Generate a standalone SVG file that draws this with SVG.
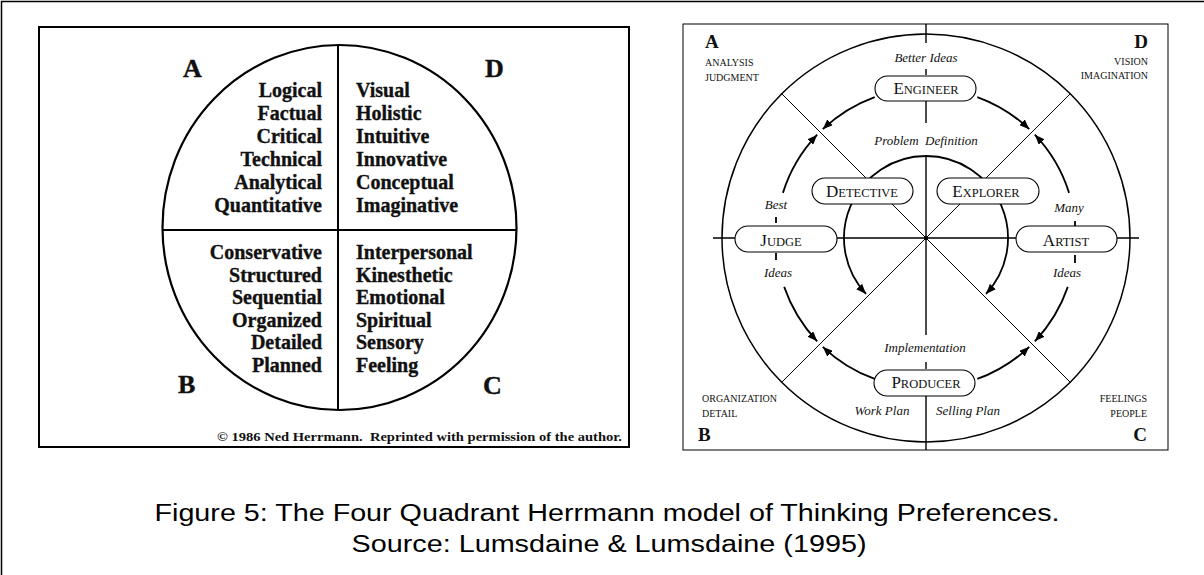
<svg xmlns="http://www.w3.org/2000/svg" width="1204" height="575" viewBox="0 0 1204 575">
<defs>
<marker id="arrow" viewBox="0 0 10 8" refX="10" refY="4" markerWidth="10" markerHeight="8" markerUnits="userSpaceOnUse" orient="auto"><path d="M0,0 L10,4 L0,8 z" fill="#000"/></marker>
</defs>
<style>
.w{font-family:"Liberation Serif","Times New Roman",serif;font-weight:bold;font-size:20px;fill:#111;stroke:#111;stroke-width:0.35}
.e{text-anchor:end}
.big{font-family:"Liberation Serif","Times New Roman",serif;font-weight:bold;font-size:26px;fill:#111;stroke:#111;stroke-width:0.4}
.it{font-family:"Liberation Serif","Times New Roman",serif;font-style:italic;font-size:13px;fill:#111;text-anchor:middle}
.sc{font-family:"Liberation Serif","Times New Roman",serif;font-size:10px;fill:#111}
.let{font-family:"Liberation Serif","Times New Roman",serif;font-weight:bold;font-size:19px;fill:#111}
.cap{font-family:"Liberation Serif","Times New Roman",serif;font-size:17px;fill:#111;text-anchor:middle}
.sm{font-size:12.5px}
.pill{fill:#fff;stroke:#000;stroke-width:1.1}
.ring{fill:none;stroke:#000;stroke-width:1.8}
.thin{fill:none;stroke:#000;stroke-width:1}
.axis{fill:none;stroke:#000;stroke-width:1.4}
.caption{font-family:"Liberation Sans",Arial,sans-serif;font-size:23px;fill:#000;text-anchor:middle}
</style>
<rect width="1204" height="575" fill="#fff"/>
<path d="M1.5,575 V1.5 H1204" fill="none" stroke="#000" stroke-width="1.5"/>

<!-- Left panel -->
<g id="left-panel">
<rect x="39" y="27" width="590" height="420" fill="none" stroke="#000" stroke-width="2"/>
<ellipse cx="339.5" cy="227.5" rx="177" ry="182.5" fill="none" stroke="#000" stroke-width="2.2"/>
<line x1="338" y1="45" x2="338" y2="410" stroke="#000" stroke-width="2"/>
<line x1="162.5" y1="230" x2="516.5" y2="230" stroke="#000" stroke-width="2"/>
<text class="big" x="183" y="77">A</text>
<text class="big" x="485" y="77">D</text>
<text class="big" x="178" y="393">B</text>
<text class="big" x="483" y="394">C</text>
<text class="w e" x="322" y="97">Logical</text>
<text class="w e" x="322" y="120">Factual</text>
<text class="w e" x="322" y="143">Critical</text>
<text class="w e" x="322" y="166">Technical</text>
<text class="w e" x="322" y="189">Analytical</text>
<text class="w e" x="322" y="212">Quantitative</text>
<text class="w e" x="322" y="259">Conservative</text>
<text class="w e" x="322" y="282">Structured</text>
<text class="w e" x="322" y="304">Sequential</text>
<text class="w e" x="322" y="327">Organized</text>
<text class="w e" x="322" y="349">Detailed</text>
<text class="w e" x="322" y="372">Planned</text>
<text class="w" x="356" y="97">Visual</text>
<text class="w" x="356" y="120">Holistic</text>
<text class="w" x="356" y="143">Intuitive</text>
<text class="w" x="356" y="166">Innovative</text>
<text class="w" x="356" y="189">Conceptual</text>
<text class="w" x="356" y="212">Imaginative</text>
<text class="w" x="356" y="259">Interpersonal</text>
<text class="w" x="356" y="282">Kinesthetic</text>
<text class="w" x="356" y="304">Emotional</text>
<text class="w" x="356" y="327">Spiritual</text>
<text class="w" x="356" y="349">Sensory</text>
<text class="w" x="356" y="372">Feeling</text>
<text x="217" y="441" font-family="Liberation Serif, Times New Roman, serif" font-weight="bold" font-size="12.5" textLength="405" lengthAdjust="spacingAndGlyphs" fill="#111" xml:space="preserve">© 1986 Ned Herrmann.  Reprinted with permission of the author.</text>
</g>

<!-- Right panel frame and static shapes -->
<g id="right-panel">
<rect x="683" y="24" width="485" height="426" fill="none" stroke="#000" stroke-width="1"/>
<circle cx="926" cy="238" r="204" fill="none" stroke="#000" stroke-width="1.5"/>
<path class="axis" d="M926,24 V43 M926,69 V75 M926,101 V123 M926,155 V335 M926,362 V369 M926,396 V450"/>
<path class="axis" d="M713,238 H735 M837,238 H1016 M1117,238 H1139"/>
<path class="thin" d="M781.8,93.8 L1070.2,382.2 M1070.2,93.8 L781.8,382.2"/>
<circle cx="926" cy="238" r="2" fill="#000"/>
<path class="ring" d="M776,217 V223 M776,253 V260 M1075,221 V227 M1075,255 V263"/>
<text class="let" x="705" y="48">A</text>
<text class="sc" x="705" y="66">ANALYSIS</text>
<text class="sc" x="705" y="81">JUDGMENT</text>
<text class="let" x="1148" y="48" text-anchor="end">D</text>
<text class="sc" x="1148" y="65" text-anchor="end">VISION</text>
<text class="sc" x="1148" y="79" text-anchor="end">IMAGINATION</text>
<text class="sc" x="702" y="402">ORGANIZATION</text>
<text class="sc" x="702" y="417">DETAIL</text>
<text class="let" x="698" y="441">B</text>
<text class="sc" x="1147" y="402" text-anchor="end">FEELINGS</text>
<text class="sc" x="1147" y="417" text-anchor="end">PEOPLE</text>
<text class="let" x="1147" y="441" text-anchor="end">C</text>
<text class="it" x="926" y="62">Better Ideas</text>
<text class="it" x="926" y="145" xml:space="preserve">Problem  Definition</text>
<text class="it" x="925" y="352">Implementation</text>
<text class="it" x="882" y="415">Work Plan</text>
<text class="it" x="968" y="415">Selling Plan</text>
<text class="it" x="776" y="209">Best</text>
<text class="it" x="778" y="277">Ideas</text>
<text class="it" x="1069" y="212">Many</text>
<text class="it" x="1067" y="277">Ideas</text>
</g>

<!-- Connectors -->
<g id="connectors">
<path class="ring" marker-end="url(#arrow)" d="M874.7,97.05 A150,150 0 0 0 822.74,129.19"/>
<path class="ring" marker-end="url(#arrow)" d="M782.94,192.89 A150,150 0 0 1 817.19,134.74"/>
<path class="ring" marker-end="url(#arrow)" d="M784.18,286.84 A150,150 0 0 0 817.19,341.26"/>
<path class="ring" marker-end="url(#arrow)" d="M874.7,378.95 A150,150 0 0 1 822.74,346.81"/>
<path class="ring" marker-end="url(#arrow)" d="M977.3,378.95 A150,150 0 0 0 1029.26,346.81"/>
<path class="ring" marker-end="url(#arrow)" d="M1067.82,286.84 A150,150 0 0 1 1034.81,341.26"/>
<path class="ring" marker-end="url(#arrow)" d="M1069.06,192.89 A150,150 0 0 0 1034.81,134.74"/>
<path class="ring" marker-end="url(#arrow)" d="M977.3,97.05 A150,150 0 0 1 1029.26,129.19"/>
<path class="ring" marker-end="url(#arrow)" d="M926,156 A82,82 0 0 0 866,293.9"/>
<path class="ring" marker-end="url(#arrow)" d="M926,156 A82,82 0 0 1 986,293.9"/>
</g>

<!-- Nodes -->
<g id="engineer">
<rect class="pill" x="875" y="76" width="101" height="25" rx="12.5"/>
<text class="cap" x="926" y="94">E<tspan class="sm">NGINEER</tspan></text>
</g>
<g id="producer">
<rect class="pill" x="874" y="370" width="101" height="26" rx="13"/>
<text class="cap" x="926" y="388">P<tspan class="sm">RODUCER</tspan></text>
</g>
<g id="judge">
<rect class="pill" x="735" y="226" width="102" height="26" rx="13"/>
<text class="cap" x="781" y="245.5">J<tspan class="sm">UDGE</tspan></text>
</g>
<g id="artist">
<rect class="pill" x="1016" y="226" width="101" height="26" rx="13"/>
<text class="cap" x="1066" y="245.5">A<tspan class="sm">RTIST</tspan></text>
</g>
<g id="detective">
<rect class="pill" x="812" y="178" width="101" height="26" rx="13"/>
<text class="cap" x="862" y="197">D<tspan class="sm">ETECTIVE</tspan></text>
</g>
<g id="explorer">
<rect class="pill" x="937" y="178" width="102" height="26" rx="13"/>
<text class="cap" x="986" y="197">E<tspan class="sm">XPLORER</tspan></text>
</g>

<!-- Caption -->
<text class="caption" x="607" y="521" textLength="905" lengthAdjust="spacingAndGlyphs">Figure 5: The Four Quadrant Herrmann model of Thinking Preferences.</text>
<text class="caption" x="609" y="552" textLength="515" lengthAdjust="spacingAndGlyphs">Source: Lumsdaine &amp; Lumsdaine (1995)</text>
</svg>
